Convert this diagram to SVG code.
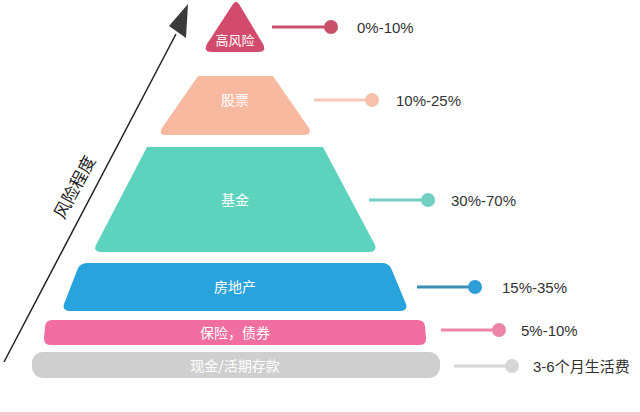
<svg xmlns="http://www.w3.org/2000/svg" width="640" height="416" viewBox="0 0 640 416">
<style>
.lbl{font-family:"Noto Sans CJK SC","Liberation Sans",sans-serif;font-size:14px;fill:#fff;text-anchor:middle}
.val{font-family:"Liberation Sans","Noto Sans CJK SC",sans-serif;font-size:15px;fill:#333}
.ln{stroke-width:3}
</style>
<rect width="640" height="416" fill="#fff"/>
<g id="axis">
<line x1="4" y1="362" x2="176" y2="34" stroke="#222" stroke-width="1.5"/>
<polygon points="188,4 169,26 186,38" fill="#3a3a3a"/>
<text transform="translate(80,190) rotate(-62)" style="font-family:'Noto Sans CJK SC',sans-serif;font-size:17px;fill:#222;text-anchor:middle">风险程度</text>
</g>
<g id="n1"><path d="M233,4 Q236,0 239,4 L263,44 Q267,52 258,52 L212,52 Q203,52 207,44 Z" fill="#d24a6c"/><text class="lbl" x="235" y="45" style="font-size:13px">高风险</text></g>
<g id="n2"><path d="M198,76 L273,76 L309,128 Q312,135 304,135 L166,135 Q158,135 162,128 Z" fill="#f8b9a1"/><text class="lbl" x="235" y="105">股票</text></g>
<g id="n3"><path d="M147,147 L323,147 L375,245 Q377,252 369,252 L101,252 Q93,252 96,245 Z" fill="#5dd3bd"/><text class="lbl" x="235" y="205">基金</text></g>
<g id="n4"><path d="M88,263 L382,263 Q388,263 391,268 L406,304 Q408,311 400,311 L70,311 Q62,311 64,304 L78,268 Q81,263 88,263Z" fill="#29a3dc"/><text class="lbl" x="235" y="292">房地产</text></g>
<g id="n5"><path d="M52,320 L418,320 Q424,320 425,326 L426,339 Q426,345 419,345 L51,345 Q44,345 44,339 L45,326 Q46,320 52,320Z" fill="#f06fa0"/><text class="lbl" x="235" y="338">保险，债券</text></g>
<g id="n6"><rect x="32" y="352" width="408" height="26" rx="11" fill="#cfcfcf"/><text class="lbl" x="235" y="371">现金/活期存款</text></g>
<g id="connectors">
<line class="ln" x1="272" y1="27" x2="330" y2="27" stroke="#c9506a"/><circle cx="331" cy="27" r="7" fill="#c9506a"/>
<line class="ln" x1="314" y1="100" x2="372" y2="100" stroke="#f6c8b6"/><circle cx="372" cy="100" r="7" fill="#f6c0ab"/>
<line class="ln" x1="369" y1="200" x2="428" y2="200" stroke="#6fd0c2"/><circle cx="428" cy="200" r="7" fill="#6fd0c2"/>
<line class="ln" x1="417" y1="287" x2="475" y2="287" stroke="#3a8fb5"/><circle cx="475" cy="287" r="7" fill="#2f9ed8"/>
<line class="ln" x1="441" y1="330" x2="499" y2="330" stroke="#ec86a6"/><circle cx="499" cy="330" r="7" fill="#ec86a6"/>
<line class="ln" x1="454" y1="366" x2="512" y2="366" stroke="#d6d6d6"/><circle cx="512" cy="366" r="7" fill="#d6d6d6"/>
</g>
<g id="values">
<text class="val" x="357" y="33">0%-10%</text>
<text class="val" x="396" y="106">10%-25%</text>
<text class="val" x="451" y="206">30%-70%</text>
<text class="val" x="502" y="293">15%-35%</text>
<text class="val" x="521" y="336">5%-10%</text>
<text class="val" x="533" y="372">3-6个月生活费</text>
</g>
<rect x="0" y="412" width="640" height="4" fill="#f7c6cf"/>
</svg>
